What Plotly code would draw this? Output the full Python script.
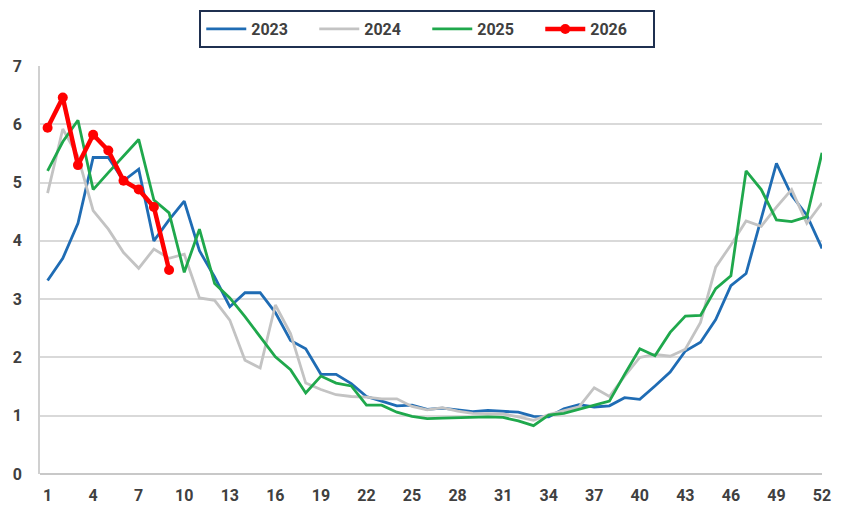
import plotly.graph_objects as go

weeks = list(range(1, 53))

y2023 = [3.32, 3.70, 4.30, 5.43, 5.43, 5.03, 5.23, 4.00, 4.36, 4.68,
         3.83, 3.38, 2.87, 3.11, 3.11, 2.77, 2.29, 2.15, 1.71, 1.71,
         1.55, 1.33, 1.25, 1.17, 1.18, 1.11, 1.13, 1.10, 1.07, 1.09,
         1.08, 1.06, 0.99, 0.98, 1.12, 1.19, 1.15, 1.17, 1.31, 1.28,
         1.51, 1.75, 2.11, 2.26, 2.65, 3.23, 3.44, 4.40, 5.33, 4.78,
         4.44, 3.87]

y2024 = [4.82, 5.92, 5.45, 4.52, 4.20, 3.80, 3.53, 3.86, 3.70, 3.77,
         3.02, 2.98, 2.64, 1.95, 1.82, 2.90, 2.41, 1.56, 1.45, 1.36,
         1.33, 1.32, 1.29, 1.29, 1.16, 1.10, 1.14, 1.08, 1.04, 1.04,
         1.03, 0.98, 0.92, 1.02, 1.08, 1.15, 1.48, 1.33, 1.68, 2.00,
         2.05, 2.02, 2.14, 2.60, 3.55, 3.93, 4.34, 4.25, 4.58, 4.88,
         4.30, 4.65]

y2025 = [5.20, 5.70, 6.07, 4.88, 5.17, 5.45, 5.74, 4.70, 4.48, 3.46,
         4.20, 3.27, 3.02, 2.70, 2.35, 2.01, 1.79, 1.39, 1.68, 1.56,
         1.51, 1.18, 1.18, 1.06, 0.99, 0.95, 0.96, 0.97, 0.98, 0.98,
         0.97, 0.91, 0.83, 1.01, 1.04, 1.11, 1.19, 1.25, 1.71, 2.15,
         2.03, 2.43, 2.71, 2.72, 3.18, 3.40, 5.20, 4.88, 4.36, 4.33,
         4.41, 5.51]

weeks2026 = [1, 2, 3, 4, 5, 6, 7, 8, 9]
y2026 = [5.94, 6.46, 5.30, 5.82, 5.55, 5.03, 4.88, 4.58, 3.50]

x_ticks = [1, 4, 7, 10, 13, 16, 19, 22, 25, 28, 31, 34, 37, 40, 43, 46, 49, 52]
y_ticks = [0, 1, 2, 3, 4, 5, 6, 7]

fig = go.Figure()
fig.add_trace(go.Scatter(x=weeks, y=y2023, name="2023", mode="lines",
                         line=dict(color="#1f6cb4", width=2.8)))
fig.add_trace(go.Scatter(x=weeks, y=y2024, name="2024", mode="lines",
                         line=dict(color="#c3c3c3", width=2.8)))
fig.add_trace(go.Scatter(x=weeks, y=y2025, name="2025", mode="lines",
                         line=dict(color="#1fa84c", width=2.8)))
fig.add_trace(go.Scatter(x=weeks2026, y=y2026, name="2026", mode="lines+markers",
                         line=dict(color="#ff0000", width=4.5),
                         marker=dict(color="#ff0000", size=10)))

fig.update_layout(
    width=847, height=512,
    margin=dict(l=32, r=33, t=58, b=46),
    paper_bgcolor="white", plot_bgcolor="white",
    font=dict(family="Roboto", size=16, color="#404040"),
    showlegend=True,
    legend=dict(orientation="h", x=0.495, xanchor="center", xref="container",
                y=0.996, yanchor="top", yref="container",
                bordercolor="#1f3050", borderwidth=2,
                font=dict(family="Roboto", size=16, color="#404040", weight="bold"),
                entrywidth=58, itemwidth=40),
)

fig.update_xaxes(range=[0.5, 52], tickvals=x_ticks, ticktext=[str(t) for t in x_ticks],
                 showgrid=False, zeroline=False, showline=False, automargin=False,
                 tickfont=dict(family="Roboto", size=16, color="#404040", weight="bold"),
                 ticks="", ticklen=0, ticklabelstandoff=10)
fig.update_yaxes(range=[0, 7], tickvals=y_ticks, showgrid=True, gridcolor="#d9d9d9",
                 gridwidth=1.5, zeroline=True, zerolinecolor="#c8c8c8", zerolinewidth=2,
                 showline=True, linecolor="#d0d0d0", linewidth=1.5, automargin=False,
                 tickfont=dict(family="Roboto", size=16, color="#404040", weight="bold"),
                 ticks="", ticklen=0, ticklabelstandoff=13)

fig.write_html("out.html")
